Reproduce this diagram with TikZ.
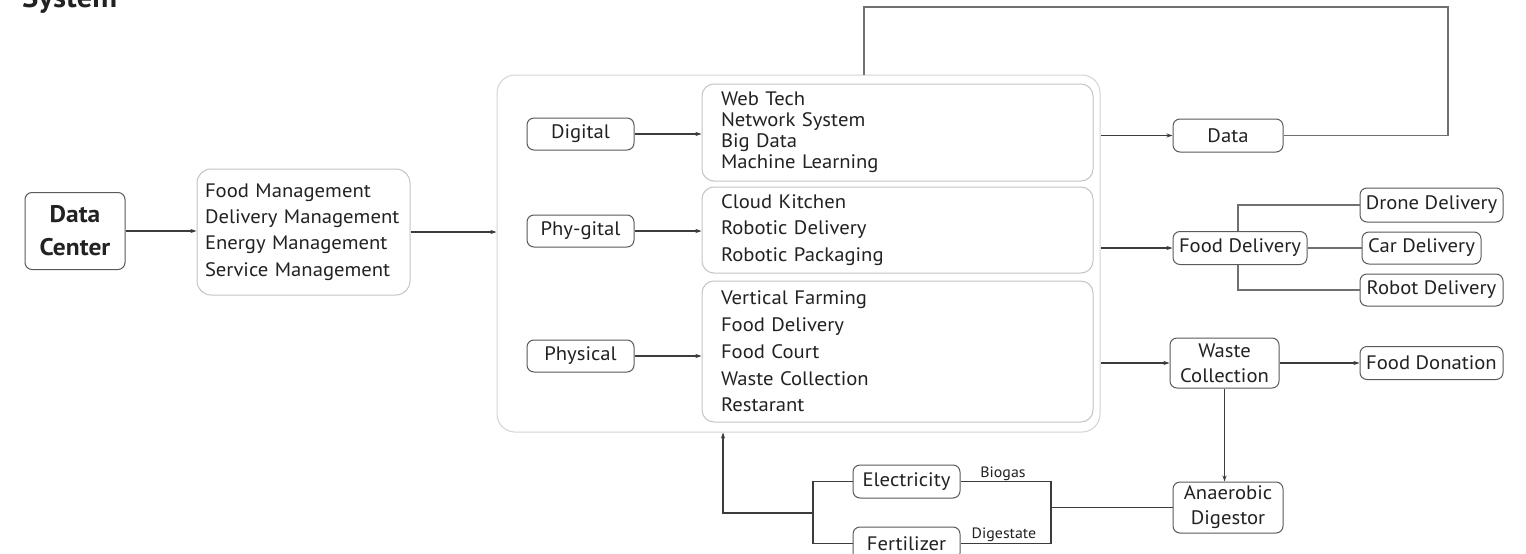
\documentclass[tikz,border=0pt]{standalone}
\usepackage{fontspec}
\setmainfont[FakeStretch=1.06]{PT Sans}
\usetikzlibrary{arrows.meta}
\definecolor{ink}{HTML}{222222}
\definecolor{edge}{HTML}{5a5a5a}
\definecolor{pale}{HTML}{c4c4c4}
\definecolor{paler}{HTML}{d4d4d4}
\definecolor{wirec}{HTML}{3c3c3c}
\definecolor{wirel}{HTML}{707070}
\tikzset{
 txt/.style={font=\fontsize{19.5}{21}\selectfont, text=ink},
 sbox/.style={draw=edge, line width=1pt, rounded corners=7pt, inner sep=0pt, txt},
 lbox/.style={draw=pale, line width=1pt, rounded corners=12pt, inner ysep=0pt, align=left, txt},
 wire/.style={draw=wirec, line width=1.1pt},
 lwire/.style={draw=wirel, line width=1.1pt},
 arr/.style={wire, -{Stealth[length=6pt,width=4pt]}},
 small/.style={font=\fontsize{15}{15}\selectfont, text=ink, inner sep=0pt, anchor=base},
}
\begin{document}
\begin{tikzpicture}[x=1pt,y=-1pt]
\useasboundingbox (0,0) rectangle (1526,554);
\clip (0,0) rectangle (1526,554);
\fill[white] (0,0) rectangle (1526,554);
\node[anchor=base west, font=\fontsize{29}{29}\selectfont\bfseries, text=ink, inner sep=0pt] (title) at (22,8) {System};

% left
\node[sbox, minimum width=100pt, minimum height=77pt, font=\fontsize{24}{33}\selectfont\bfseries, align=center] (dc) at (75,231) {Data\\Center};
\node[lbox, rounded corners=14pt, minimum width=213pt, minimum height=126pt, text width=197pt, inner xsep=8pt, font=\fontsize{19.5}{26.3}\selectfont] (mgmt) at (303.5,232) {Food Management\\Delivery Management\\Energy Management\\Service Management};

% big container
\node[draw=paler, line width=1pt, rounded corners=18pt, minimum width=603pt, minimum height=357pt, inner sep=0pt] (big) at (798.5,253.5) {};

\node[sbox, minimum width=107pt, minimum height=32pt] (dig) at (580.5,134) {Digital};
\node[sbox, minimum width=107pt, minimum height=32pt] (phyg) at (580.5,231) {Phy-gital};
\node[sbox, minimum width=107pt, minimum height=32pt] (phys) at (580.5,356) {Physical};

\node[lbox, minimum width=391pt, minimum height=97pt, text width=353pt, inner xsep=19pt] (dl) at (897.5,132.5) {Web Tech\\Network System\\Big Data\\Machine Learning};
\node[lbox, minimum width=391pt, minimum height=86pt, text width=353pt, inner xsep=19pt, font=\fontsize{19.5}{26.5}\selectfont] (pl) at (897.5,230) {Cloud Kitchen\\Robotic Delivery\\Robotic Packaging};
\node[lbox, minimum width=391pt, minimum height=141pt, text width=353pt, inner xsep=19pt, font=\fontsize{19.5}{26.8}\selectfont] (phl) at (897.5,351.5) {Vertical Farming\\Food Delivery\\Food Court\\Waste Collection\\Restarant};

% right
\node[sbox, minimum width=110pt, minimum height=33pt] (data) at (1228,135.5) {Data};
\node[sbox, minimum width=134pt, minimum height=33pt] (fd) at (1240,248) {Food Delivery};
\node[sbox, minimum width=143pt, minimum height=34pt] (drone) at (1431.5,205) {Drone Delivery};
\node[sbox, minimum width=119pt, minimum height=32pt] (car) at (1421.5,248) {Car Delivery};
\node[sbox, minimum width=143pt, minimum height=32pt] (robot) at (1431.5,290) {Robot Delivery};
\node[sbox, minimum width=109pt, minimum height=50pt, align=center, font=\fontsize{19.5}{25}\selectfont] (wc) at (1224.5,363) {Waste\\Collection};
\node[sbox, minimum width=143pt, minimum height=33pt] (don) at (1431.5,363) {Food Donation};
\node[sbox, minimum width=110pt, minimum height=51pt, align=center, font=\fontsize{19.5}{25}\selectfont] (ad) at (1228,507.5) {Anaerobic\\Digestor};
\node[sbox, minimum width=107pt, minimum height=33pt] (elec) at (906.5,481.5) {Electricity};
\node[sbox, minimum width=107pt, minimum height=33pt] (fert) at (906.5,543.5) {Fertilizer};

\node[small] (biogas) at (1003,477) {Biogas};
\node[small] (digest) at (1004,538) {Digestate};

% connectors
\draw[arr] (dc.east) -- (dc.east -| mgmt.west);
\draw[arr] (mgmt.east) -- (mgmt.east -| big.west);
\draw[arr] (dig.east) -- (dig.east -| dl.west);
\draw[arr] (phyg.east) -- (phyg.east -| pl.west);
\draw[arr] (phys.east) -- (phys.east -| phl.west);
\draw[arr] (big.east |- data.west) -- (data.west);
\draw[arr] (big.east |- fd.west) -- (fd.west);
\draw[arr] (big.east |- wc.west) -- (wc.west);

\coordinate (loopR) at (1448,7);
\coordinate (loopL) at (864,7);
\draw[lwire] (data.east) -| (loopR) -- (loopL) -- (loopL |- big.north);

\coordinate (fx) at (1238,0);
\draw[lwire] (fd.north -| fx) |- (drone.west);
\draw[lwire] (fd.south -| fx) |- (robot.west);
\draw[lwire] (fd.east) -- (car.west);

\draw[arr] (wc.east) -- (don.west);
\draw[arr] (wc.south) -- (wc.south |- ad.north);

\coordinate (rv) at (1051,0);
\coordinate (lv) at (813,0);
\coordinate (fb) at (723,513);
\draw[wire] (ad.west) -- (ad.west -| rv);
\draw[wire] (elec.east) -- (elec.east -| rv) -- (fert.east -| rv) -- (fert.east);
\draw[wire] (elec.west) -- (elec.west -| lv) -- (fert.west -| lv) -- (fert.west);
\draw[arr] (fb -| lv) -- (fb) -- (fb |- big.south);
\end{tikzpicture}
\end{document}
